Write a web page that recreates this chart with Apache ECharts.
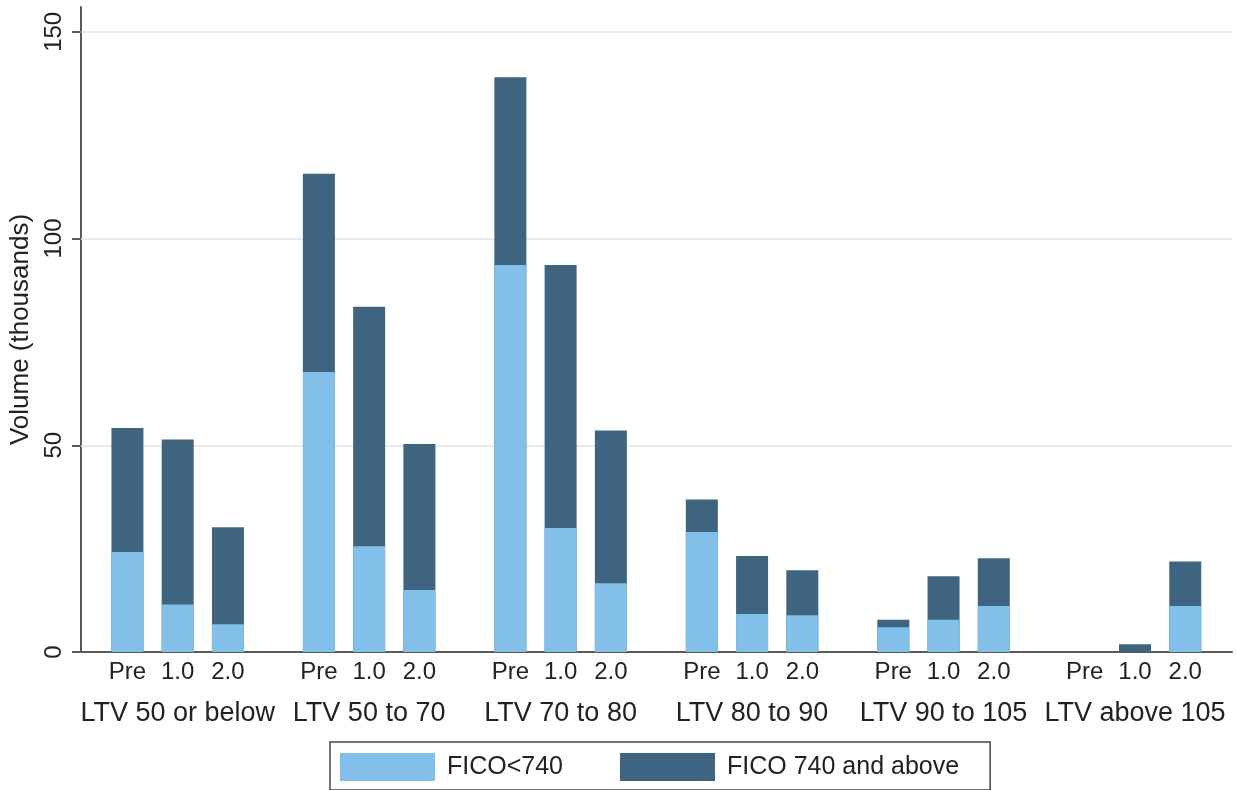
<!DOCTYPE html>
<html>
<head>
<meta charset="utf-8">
<script src="https://cdn.jsdelivr.net/npm/echarts@6/dist/echarts.min.js"></script>
<style>html,body{margin:0;padding:0;background:#fff}#c{width:1236px;height:790px}</style>
</head>
<body>
<div id="c"></div>
<script>
// ---- data ----
const groups = ['LTV 50 or below', 'LTV 50 to 70', 'LTV 70 to 80', 'LTV 80 to 90', 'LTV 90 to 105', 'LTV above 105'];
const periods = ['Pre', '1.0', '2.0'];
const ficoBelow740 = [24.2, 11.5, 6.7, 67.7, 25.6, 15.0, 93.6, 30.0, 16.6, 29.0, 9.2, 8.9, 6.0, 7.8, 11.1, 0, 0, 11.1];
const fico740Above = [30.0, 39.9, 23.5, 48.0, 57.9, 35.3, 45.4, 63.6, 37.0, 7.9, 14.0, 10.9, 1.8, 10.5, 11.6, 0, 1.9, 10.8];
const yTicks = [0, 50, 100, 150];
const seriesNames = ['FICO<740', 'FICO 740 and above'];

// ---- layout ----
const GROUP_PITCH = 3.81;
const X_MIN = -0.924, X_MAX = 21.98;
const positions = [];
const posLabels = [];
groups.forEach((g, gi) => periods.forEach((p, pi) => { positions.push(+(gi * GROUP_PITCH + pi).toFixed(4)); posLabels.push(p); }));
const groupCenters = groups.map((g, gi) => +(gi * GROUP_PITCH + 1).toFixed(4));
// stacked top of the dark segment = light + dark
const stackTop = ficoBelow740.map((v, i) => +(v + fico740Above[i]).toFixed(2));
function lookup(vals, labels, v) {
  for (let i = 0; i < vals.length; i++) if (Math.abs(vals[i] - v) < 1e-3) return labels[i];
  return '';
}
const FONT = "'Liberation Sans', Arial, sans-serif";
const TXT = '#222';
const AXIS = '#5a5a5a';

const chart = echarts.init(document.getElementById('c'), null, { renderer: 'canvas' });
chart.setOption({
  animation: false,
  backgroundColor: '#fff',
  textStyle: { fontFamily: FONT },
  grid: { left: 81, right: 4, top: 7, bottom: 138, containLabel: false },
  legend: {
    left: 330, top: 742,
    orient: 'horizontal',
    icon: 'rect',
    itemWidth: 95, itemHeight: 28, itemGap: 57,
    padding: [11, 31, 9, 10],
    borderColor: '#444', borderWidth: 1.5,
    textStyle: { fontFamily: FONT, fontSize: 25, color: TXT, padding: [0, 0, 0, 7] },
    data: seriesNames
  },
  xAxis: [
    {
      type: 'value', min: X_MIN, max: X_MAX, position: 'bottom',
      axisLine: { show: true, onZero: false, lineStyle: { color: AXIS, width: 2 } },
      axisTick: { show: false },
      splitLine: { show: false },
      axisLabel: {
        customValues: positions, margin: 8,
        fontFamily: FONT, fontSize: 24, color: TXT,
        formatter: v => lookup(positions, posLabels, v)
      }
    },
    {
      type: 'value', min: X_MIN, max: X_MAX, position: 'bottom', offset: 40,
      axisLine: { show: false, onZero: false },
      axisTick: { show: false },
      splitLine: { show: false },
      axisLabel: {
        customValues: groupCenters, margin: 8,
        fontFamily: FONT, fontSize: 27, color: TXT,
        formatter: v => lookup(groupCenters, groups, v)
      }
    }
  ],
  yAxis: {
    type: 'value', min: 0, max: 156,
    name: 'Volume (thousands)', nameLocation: 'middle', nameGap: 40, nameRotate: 90,
    nameTextStyle: { fontFamily: FONT, fontSize: 26, color: TXT },
    axisLine: { show: true, onZero: false, lineStyle: { color: AXIS, width: 2 } },
    axisTick: { show: true, customValues: yTicks, length: 9, lineStyle: { color: AXIS, width: 2 } },
    splitLine: { show: false },
    axisLabel: {
      customValues: yTicks, rotate: 90, margin: 15,
      fontFamily: FONT, fontSize: 24, color: TXT
    }
  },
  series: [
    {
      name: seriesNames[1], type: 'bar', barWidth: 32, barGap: '-100%', z: 2,
      itemStyle: { color: '#3f6480' },
      data: positions.map((x, i) => [x, stackTop[i]]),
      markLine: {
        z: 1, silent: true, symbol: 'none', label: { show: false },
        lineStyle: { color: '#e4e4e4', width: 1.5, type: 'solid' },
        data: yTicks.filter(t => t > 0).map(t => ({ yAxis: t }))
      }
    },
    {
      name: seriesNames[0], type: 'bar', barWidth: 32, barGap: '-100%', z: 3,
      itemStyle: { color: '#82bfe9' },
      data: positions.map((x, i) => [x, ficoBelow740[i]])
    }
  ]
});
</script>
</body>
</html>
